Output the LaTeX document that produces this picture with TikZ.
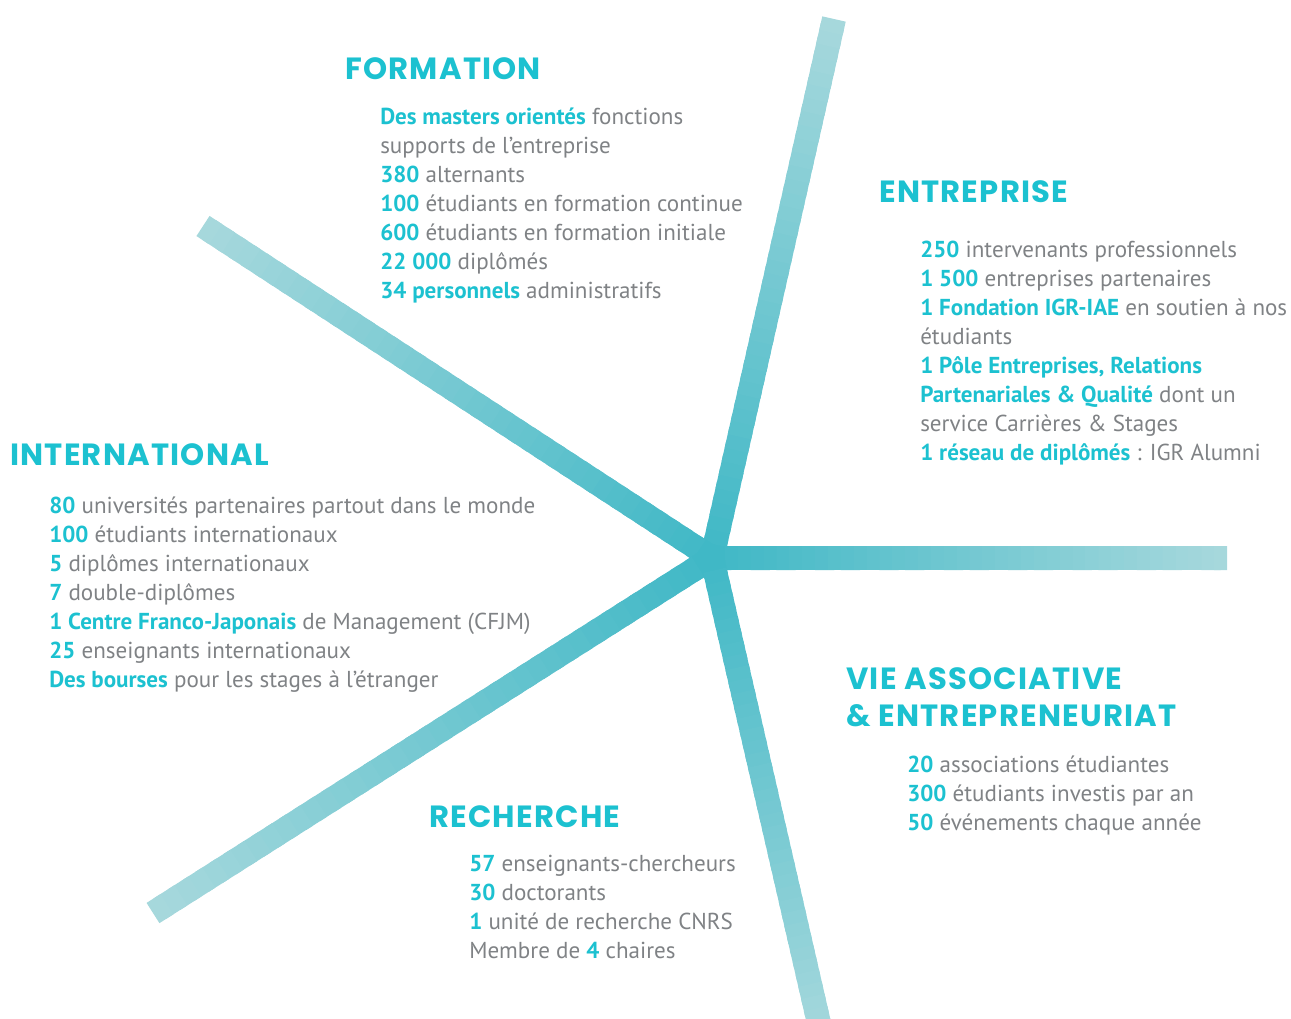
\documentclass[tikz,border=0pt]{standalone}
\usepackage{fontspec}
\setmainfont{PT Sans}
\newfontfamily\headfont{Poppins}[LetterSpace=4]
\usetikzlibrary{calc}

\definecolor{igrcyan}{HTML}{1CC1D0}
\definecolor{igrgray}{HTML}{7F8285}
\definecolor{rayin}{HTML}{40B8C6}
\definecolor{rayout}{HTML}{A9D9DD}
\newcommand{\hi}[1]{\textbf{\textcolor{igrcyan}{#1}}}
\tikzset{
    heading/.style={anchor=base west, inner sep=0pt, align=left, text=igrcyan,
        font=\headfont\bfseries\fontsize{23}{27.75}\selectfont},
    body/.style={anchor=base west, inner sep=0pt, align=left, text=igrgray,
        font=\fontsize{17.3}{21.75}\selectfont},
    ray/.style={line width=18pt, line cap=butt}
}

\begin{document}
\begin{tikzpicture}[x=0.75pt, y=-0.75pt]
                    \useasboundingbox (0,0) rectangle (1291,1018);
                    \clip (0,0) rectangle (1291,1018);

                    \coordinate (hub) at (712,558);
                    \coordinate (up) at (834,19);
                    \coordinate (upleft) at (203,226);
                    \coordinate (right) at (1227,558);
                    \coordinate (downleft) at (153,913);
                    \coordinate (down) at (824,1045);

                    \foreach \e in {up, upleft, right, downleft, down} {
                        \foreach \i in {0,...,39} {
                            \pgfmathsetmacro\mix{100-2.5*\i}
                            \pgfmathsetmacro\nxt{min((\i+1.5)/40,1)}
                            \draw [ray, rayin!\mix!rayout] ($(hub)!\i/40!(\e)$) -- ($(hub)!\nxt!(\e)$);
                        }
                    }

                    \node [heading] (formhead) at (345,79) {FORMATION};
                    \node [body] (formtxt) at (380,298) {\hi{Des masters orientés} fonctions\\
                        supports de l’entreprise\\
                        \hi{380} alternants\\
                        \hi{100} étudiants en formation continue\\
                        \hi{600} étudiants en formation initiale\\
                        \hi{22 000} diplômés\\
                        \hi{34 personnels} administratifs};

                    \node [heading] (entrhead) at (879,202) {ENTREPRISE};
                    \node [body] (entrtxt) at (920,460) {\hi{250} intervenants professionnels\\
                        \hi{1 500} entreprises partenaires\\
                        \hi{1 Fondation IGR-IAE} en soutien à nos\\
                        étudiants\\
                        \hi{1 Pôle Entreprises, Relations}\\
                        \hi{Partenariales \& Qualité} dont un\\
                        service Carrières \& Stages\\
                        \hi{1 réseau de diplômés} : IGR Alumni};

                    \node [heading] (inthead) at (10,465) {INTERNATIONAL};
                    \node [body] (inttxt) at (49,687) {\hi{80} universités partenaires partout dans le monde\\
                        \hi{100} étudiants internationaux\\
                        \hi{5} diplômes internationaux\\
                        \hi{7} double-diplômes\\
                        \hi{1 Centre Franco-Japonais} de Management (CFJM)\\
                        \hi{25} enseignants internationaux\\
                        \hi{Des bourses} pour les stages à l’étranger};

                    \node [heading] (assohead) at (846,726) {VIE ASSOCIATIVE\\ \& ENTREPRENEURIAT};
                    \node [body] (assotxt) at (907,830) {\hi{20} associations étudiantes\\
                        \hi{300} étudiants investis par an\\
                        \hi{50} événements chaque année};

                    \node [heading] (rechhead) at (429,827) {RECHERCHE};
                    \node [body] (rechtxt) at (469,958) {\hi{57} enseignants-chercheurs\\
                        \hi{30} doctorants\\
                        \hi{1} unité de recherche CNRS\\
                        Membre de \hi{4} chaires};
                \end{tikzpicture}
\end{document}
